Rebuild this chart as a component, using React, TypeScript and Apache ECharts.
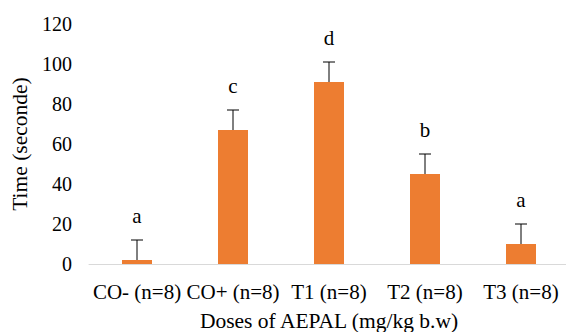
import React, { useEffect, useRef } from "react";
import * as echarts from "echarts";

const categories = ["CO- (n=8)", "CO+ (n=8)", "T1 (n=8)", "T2 (n=8)", "T3 (n=8)"];
const means = [2, 67, 91, 45, 10];
const errors = [10, 10, 10, 10, 10];
const letters = ["a", "c", "d", "b", "a"];
const yTicks = { min: 0, max: 120, interval: 20 };

const FONT = "Liberation Serif";

export default function App() {
  const ref = useRef<HTMLDivElement>(null);
  useEffect(() => {
    if (!ref.current) return;
    const chart = echarts.init(ref.current, null, { renderer: "svg" });
    const errData = categories.map((_, i) => [i, means[i], errors[i]]);
    chart.setOption({
      animation: false,
      textStyle: { fontFamily: FONT },
      grid: {
        left: 89,
        top: 24,
        width: 480,
        bottom: 68,
        containLabel: false,
        outerBoundsMode: "none",
      },
      xAxis: {
        type: "category",
        data: categories,
        axisLine: { show: true, lineStyle: { color: "#D9D9D9", width: 1 } },
        axisTick: { show: false },
        axisLabel: { color: "#000", fontFamily: FONT, fontSize: 21, margin: 17, interval: 0 },
        name: "Doses of AEPAL (mg/kg b.w)",
        nameLocation: "middle",
        nameGap: 46,
        nameTextStyle: { color: "#000", fontFamily: FONT, fontSize: 21.5 },
      },
      yAxis: {
        type: "value",
        min: yTicks.min,
        max: yTicks.max,
        interval: yTicks.interval,
        axisLine: { show: false },
        axisTick: { show: false },
        splitLine: { show: false },
        axisLabel: { color: "#000", fontFamily: FONT, fontSize: 20, margin: 17 },
        name: "Time (seconde)",
        nameLocation: "middle",
        nameGap: 57,
        nameRotate: 90,
        nameTextStyle: { color: "#000", fontFamily: FONT, fontSize: 21.5 },
      },
      series: [
        {
          type: "bar",
          data: means,
          barWidth: 30,
          itemStyle: { color: "#ED7D31" },
        },
        {
          type: "custom",
          data: errData,
          z: 10,
          renderItem: (params: any, api: any) => {
            const i = api.value(0);
            const m = api.value(1);
            const e = api.value(2);
            const p0 = api.coord([i, m]);
            const p1 = api.coord([i, m + e]);
            const half = 6;
            return {
              type: "group",
              children: [
                {
                  type: "line",
                  shape: { x1: p0[0], y1: p0[1], x2: p1[0], y2: p1[1] },
                  style: { stroke: "#000", lineWidth: 1 },
                },
                {
                  type: "line",
                  shape: { x1: p1[0] - half, y1: p1[1], x2: p1[0] + half, y2: p1[1] },
                  style: { stroke: "#000", lineWidth: 1 },
                },
                {
                  type: "text",
                  x: p1[0],
                  y: p1[1] - 24,
                  style: {
                    text: letters[params.dataIndex],
                    fill: "#000",
                    fontFamily: FONT,
                    fontSize: 21,
                    align: "center",
                    verticalAlign: "middle",
                  },
                },
              ],
            };
          },
        },
      ],
    });
    return () => chart.dispose();
  }, []);
  return (
    <div
      ref={ref}
      style={{ position: "fixed", left: 0, top: 0, width: 566, height: 332, background: "#fff" }}
    />
  );
}
